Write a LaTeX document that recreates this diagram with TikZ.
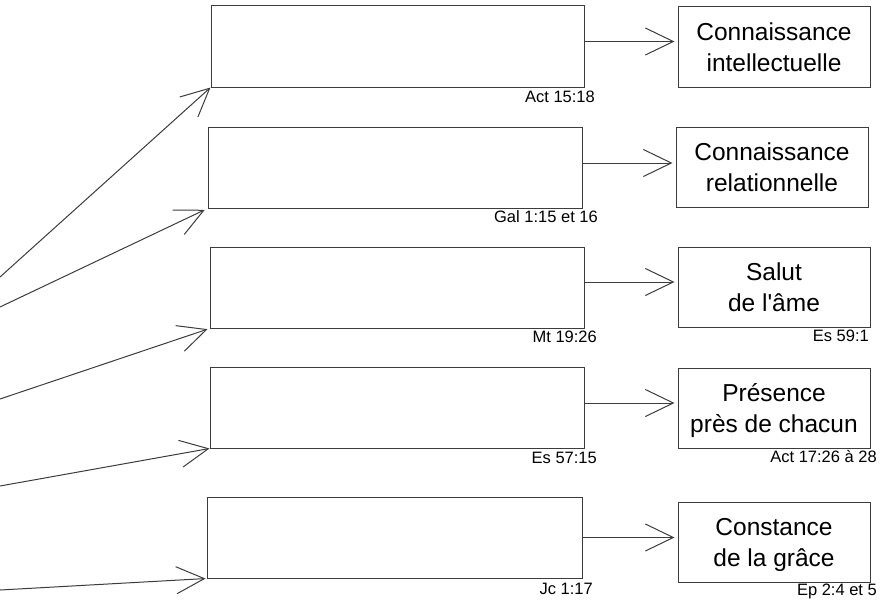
\documentclass[tikz,border=0pt]{standalone}
\usepackage{fontspec}
\newfontfamily\arialfont{Liberation Sans}
\usetikzlibrary{arrows.meta}
\definecolor{linecol}{RGB}{60,60,60}
\tikzset{
  leftbox/.style={draw=linecol, line width=1pt, rectangle, inner sep=0pt, minimum width=374pt, minimum height=81pt},
  rightbox/.style={draw=linecol, line width=1pt, rectangle, inner sep=0pt, minimum width=192pt, minimum height=80pt,
    align=center, font=\arialfont\fontsize{24.5}{31}\selectfont, text height=48pt, text depth=0pt},
  arr/.style={draw=linecol, line width=1pt, -{Straight Barb[length=28pt,width=27pt,line width=1pt]}},
  ref/.style={font=\arialfont\fontsize{16.5}{18}\selectfont, inner sep=0pt, anchor=base east}
}
\begin{document}
\begin{tikzpicture}[x=1pt,y=-1pt]
\useasboundingbox (0,0) rectangle (893,602);
% left boxes
\node[leftbox, minimum width=373pt] (l1) at (397.5,46.5) {};
\node[leftbox] (l2) at (395,167.5) {};
\node[leftbox] (l3) at (397,287.5) {};
\node[leftbox] (l4) at (397,407.5) {};
\node[leftbox, minimum width=375pt] (l5) at (394.5,537.5) {};
% right boxes
\node[rightbox] (r1) at (774,47) {Connaissance\\intellectuelle};
\node[rightbox] (r2) at (772,167.5) {Connaissance\\relationnelle};
\node[rightbox] (r3) at (774,287.5) {Salut\\de l'âme};
\node[rightbox] (r4) at (774,408) {Présence\\près de chacun};
\node[rightbox] (r5) at (774,542.5) {Constance\\de la grâce};
% references
\node[ref] (a1) at (595,102) {Act 15:18};
\node[ref] (a2) at (598,222) {Gal 1:15 et 16};
\node[ref] (a3) at (597,342) {Mt 19:26};
\node[ref] (a4) at (597,463) {Es 57:15};
\node[ref] (a5) at (593,594) {Jc 1:17};
\node[ref] (b3) at (869,341) {Es 59:1};
\node[ref] (b4) at (877,462) {Act 17:26 à 28};
\node[ref] (b5) at (877,595) {Ep 2:4 et 5};
% left incoming arrows
\coordinate (s1) at (0,277);
\coordinate (s2) at (0,307);
\coordinate (s3) at (0,399);
\coordinate (s4) at (0,486);
\coordinate (s5) at (0,590);
\begin{scope}
\clip (0,0) rectangle (893,602);
\draw[arr] (s1) -- (l1.south west);
\draw[arr, shorten >=3pt] (s2) -- (l2.south west);
\draw[arr, shorten >=2pt] (s3) -- (l3.south west);
\draw[arr] (s4) -- (l4.south west);
\draw[arr, shorten >=1pt] (s5) -- (l5.south west);
\end{scope}
% right arrows
\draw[arr, shorten >=3pt] ([yshift=5pt]l1.east) -- ([yshift=5pt]l1.east -| r1.west);
\draw[arr, shorten >=3pt] ([yshift=4.5pt]l2.east) -- ([yshift=4.5pt]l2.east -| r2.west);
\draw[arr, shorten >=3pt] ([yshift=5.5pt]l3.east) -- ([yshift=5.5pt]l3.east -| r3.west);
\draw[arr, shorten >=3pt] ([yshift=4.5pt]l4.east) -- ([yshift=4.5pt]l4.east -| r4.west);
\draw[arr, shorten >=3pt] (l5.east) -- (l5.east -| r5.west);
\end{tikzpicture}
\end{document}
